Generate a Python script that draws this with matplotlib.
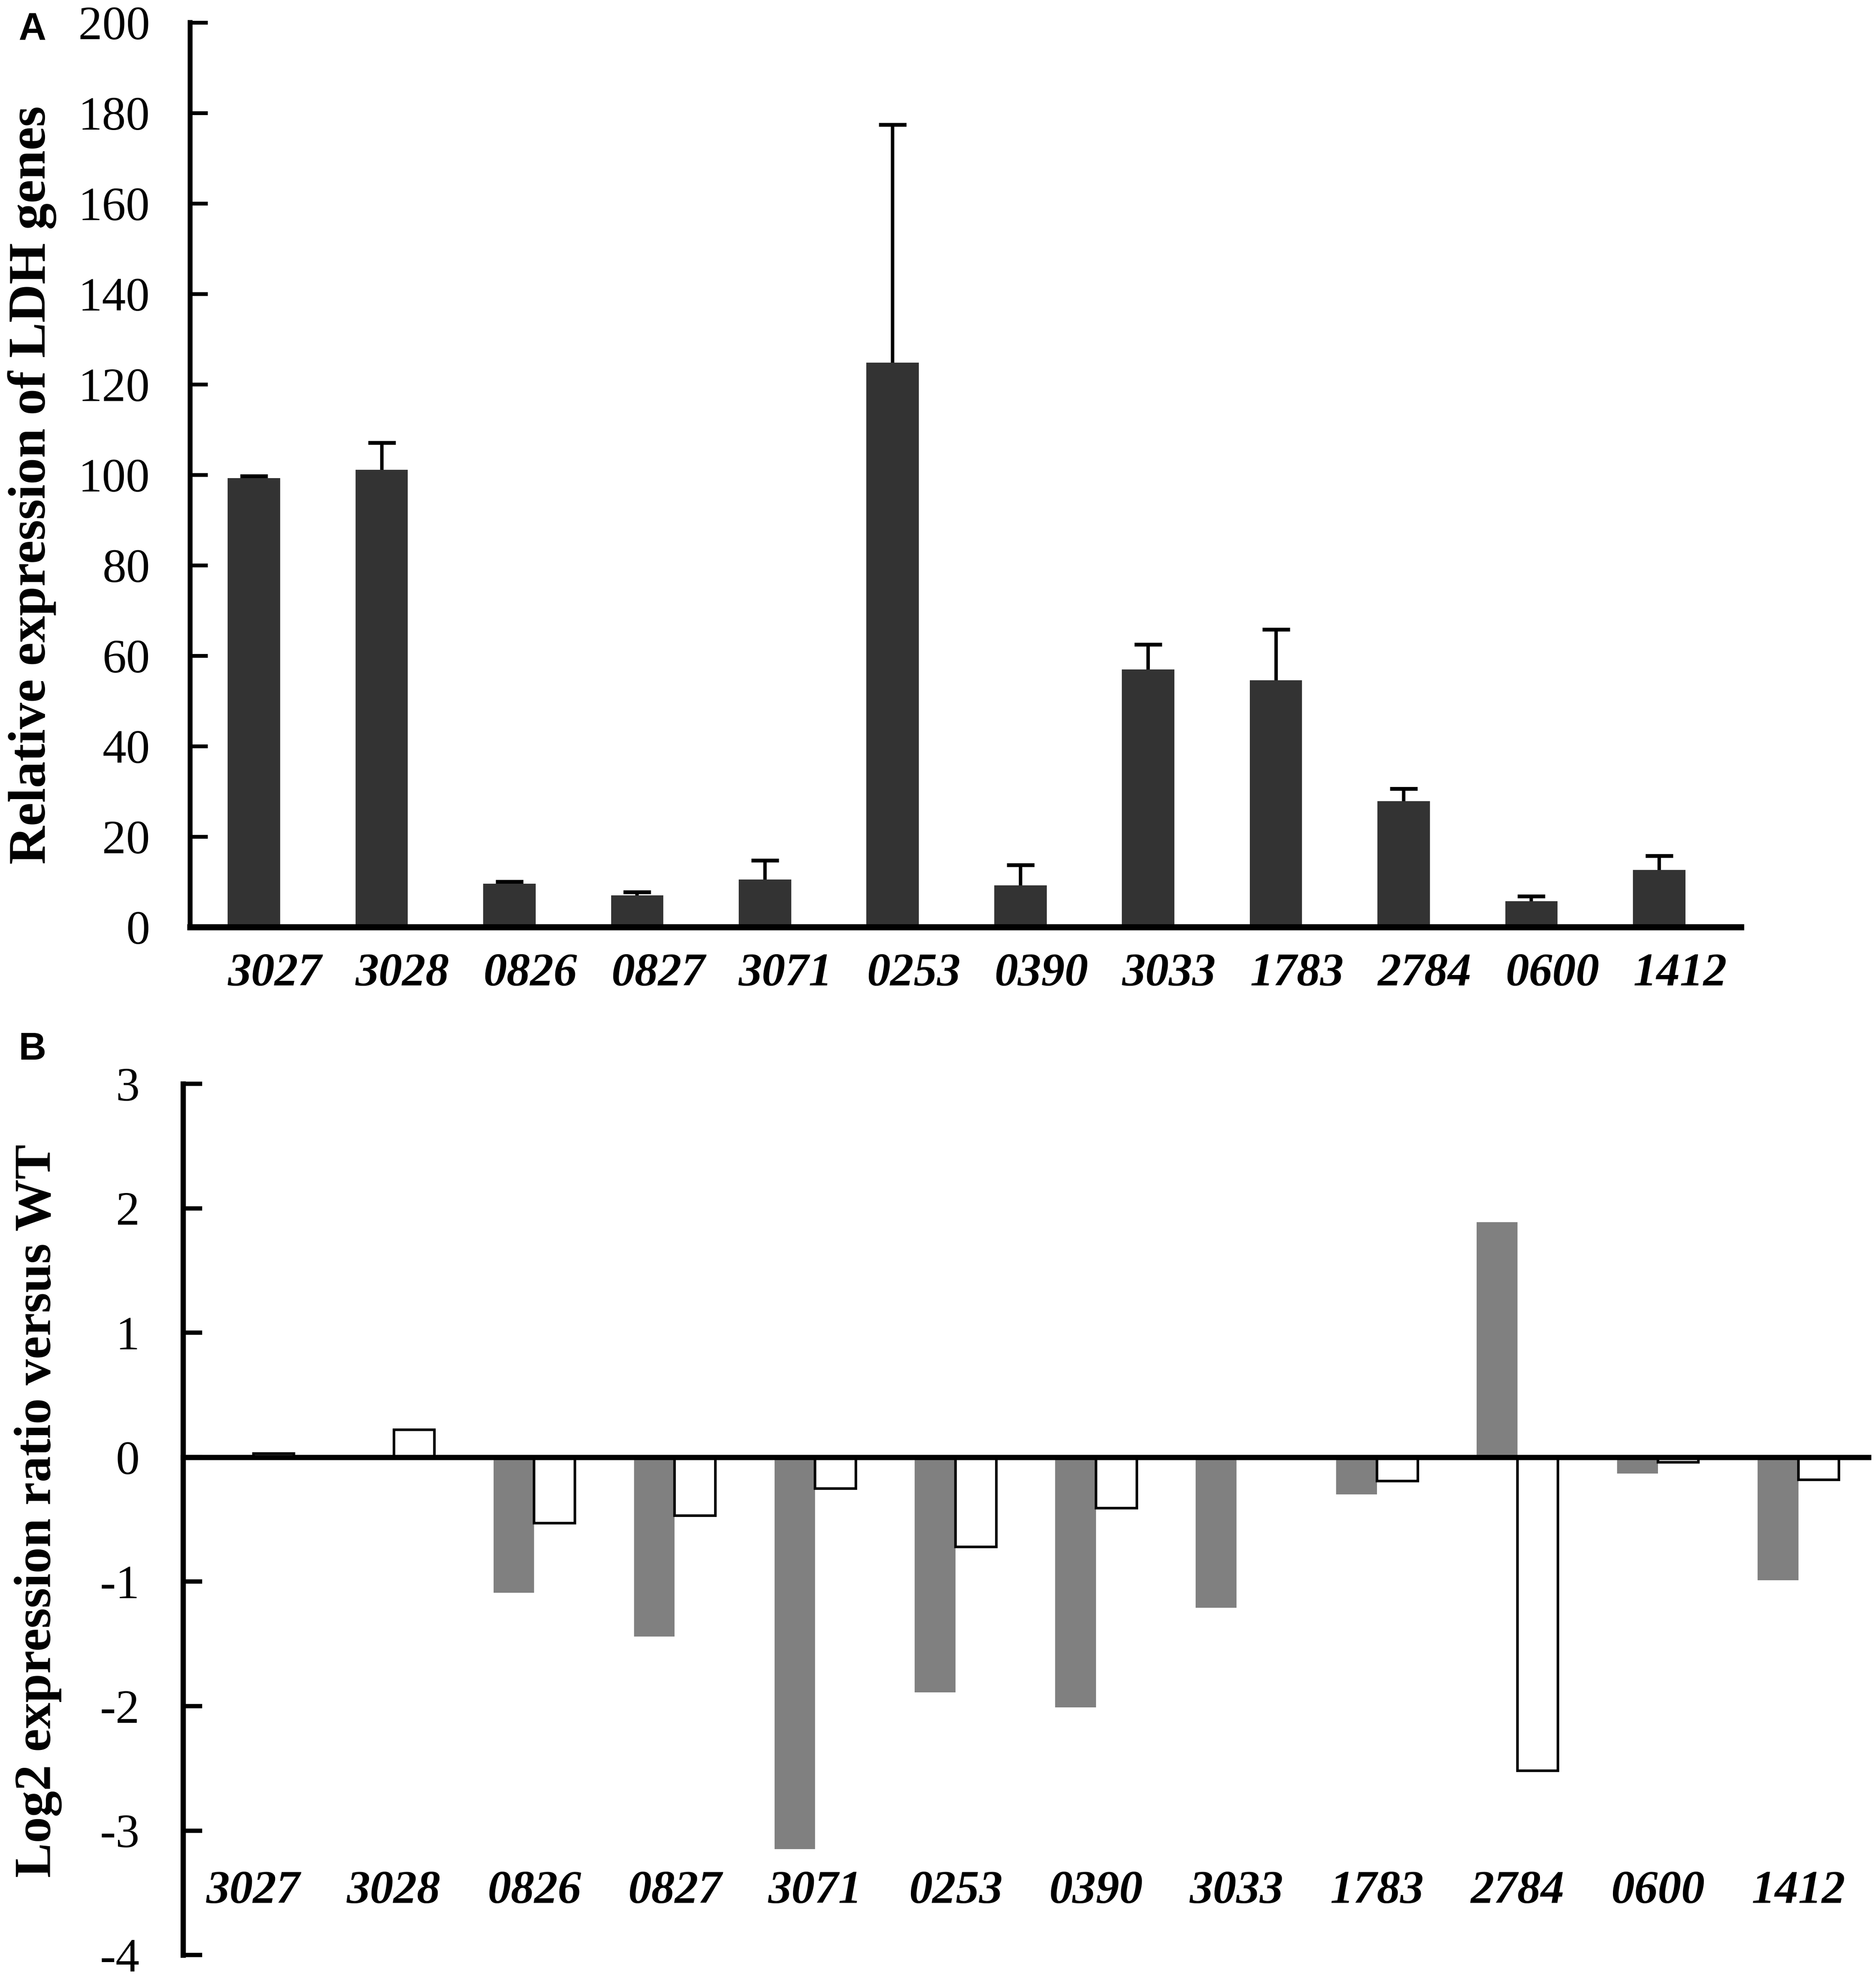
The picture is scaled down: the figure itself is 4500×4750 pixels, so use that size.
import numpy as np
import matplotlib
matplotlib.use("Agg")
import matplotlib.pyplot as plt
import matplotlib.transforms as mtransforms

# gene ids (same order in both panels)
genes = ['3027', '3028', '0826', '0827', '3071', '0253', '0390', '3033', '1783', '2784', '0600', '1412']

# panel A: relative expression + upper error
rel_expr = [99.3, 101.1, 9.6, 7.0, 10.5, 124.8, 9.2, 57.0, 54.6, 27.8, 5.7, 12.6]
rel_err = [0.4, 6.0, 0.4, 0.7, 4.2, 52.6, 4.5, 5.5, 11.2, 2.8, 1.1, 3.2]

# panel B: log2 ratio versus WT, two series (grey / white)
log2_grey = [0.0, 0.0, -1.09, -1.44, -3.15, -1.89, -2.01, -1.21, -0.30, 1.89, -0.13, -0.99]
log2_white = [0.03, 0.22, -0.53, -0.47, -0.25, -0.72, -0.41, 0.0, -0.19, -2.52, -0.04, -0.18]

serif = 'Liberation Serif'
plt.rcParams['font.family'] = [serif, 'DejaVu Serif']
plt.rcParams['axes.unicode_minus'] = False

fig = plt.figure(figsize=(15, 4750 / 300), dpi=300)
x = np.arange(len(genes))

# ---------- panel A ----------
axA = fig.add_axes([0.1013, 0.5318, 0.928 - 0.1013, 0.9886 - 0.5318])
axA.bar(x, rel_expr, width=0.41, color='#333333', zorder=2)
# only the upper whisker + cap
eb = axA.errorbar(x, rel_expr, yerr=[np.zeros(len(rel_err)), rel_err], fmt='none',
                  ecolor='black', elinewidth=2.0, capsize=8, capthick=2.2, zorder=1)
for cl in eb[1]:
    if np.allclose(cl.get_ydata(), rel_expr):
        cl.set_visible(False)
axA.set_xlim(-0.5, 11.64)
axA.set_ylim(0, 200)
axA.set_yticks(np.arange(0, 201, 20))
axA.spines['top'].set_visible(False)
axA.spines['right'].set_visible(False)
axA.spines['left'].set_linewidth(2.8)
axA.spines['bottom'].set_linewidth(3.5)
axA.spines['bottom'].set_zorder(3)
axA.tick_params(axis='y', direction='in', length=10, width=2.2, pad=23, labelsize=27.5)
axA.tick_params(axis='x', length=0, pad=15)
axA.set_xticks(x)
axA.set_xticklabels(genes, fontsize=27, fontstyle='italic', fontweight='bold')
shift = mtransforms.ScaledTranslation(12 / 72, 0, fig.dpi_scale_trans)
for lab in axA.get_xticklabels():
    lab.set_transform(lab.get_transform() + shift)
fig.text(0.004, 0.755, 'Relative expression of LDH genes', rotation=90,
         ha='left', va='center', fontsize=30.5, fontweight='bold')
fig.text(0.01, 0.994, 'A', ha='left', va='top', fontsize=22, fontweight='bold',
         family='Liberation Sans')

# ---------- panel B ----------
axB = fig.add_axes([0.0976, 0.0126, 0.996 - 0.0976, 0.4526 - 0.0126])
bw = 0.29
axB.bar(x - bw / 2, log2_grey, width=bw, color='#808080', zorder=2)
axB.bar(x + bw / 2, log2_white, width=bw, color='white', edgecolor='black',
        linewidth=1.5, zorder=2)
axB.set_xlim(-0.5, 11.5)
axB.set_ylim(-4, 3)
axB.set_yticks(np.arange(-4, 4, 1))
axB.spines['top'].set_visible(False)
axB.spines['right'].set_visible(False)
axB.spines['left'].set_linewidth(3.0)
axB.spines['bottom'].set_position(('data', 0))
axB.spines['bottom'].set_linewidth(3.0)
axB.spines['bottom'].set_zorder(3)
axB.set_xticks([])
axB.tick_params(axis='y', direction='in', length=11, width=2.5, pad=25, labelsize=27.5)
for xi, g in zip(x, genes):
    axB.text(xi, -3.49, g, ha='center', va='center', fontsize=27,
             fontstyle='italic', fontweight='bold')
fig.text(0.0075, 0.237, 'Log2 expression ratio versus WT', rotation=90,
         ha='left', va='center', fontsize=30, fontweight='bold')
fig.text(0.01, 0.479, 'B', ha='left', va='top', fontsize=22, fontweight='bold',
         family='Liberation Sans')

fig.savefig('out.png', dpi=300, facecolor='white')
